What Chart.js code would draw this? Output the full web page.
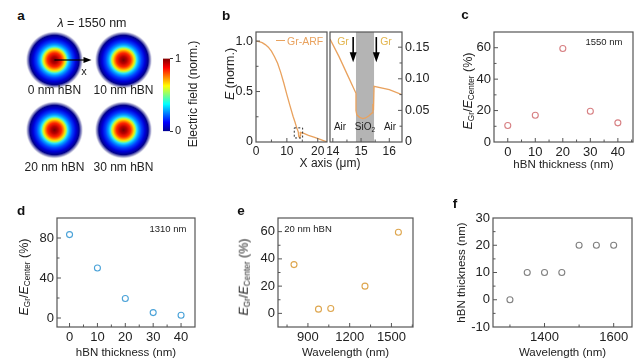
<!DOCTYPE html>
<html><head><meta charset="utf-8">
<script src="https://cdn.jsdelivr.net/npm/chart.js@4.4.1/dist/chart.umd.min.js"></script>
<style>
html,body{margin:0;padding:0;background:#fff;}
body{width:640px;height:364px;position:relative;overflow:hidden;font-family:"Liberation Sans",Arial,sans-serif;color:#222;}
canvas{position:absolute;z-index:1;}
.t,.tl,.v,.ln{z-index:3;}
.t{position:absolute;white-space:nowrap;transform:translate(-50%,-50%);line-height:1;}
.tl{position:absolute;white-space:nowrap;transform:translate(0,-50%);line-height:1;}
.v{position:absolute;white-space:nowrap;transform:translate(-50%,-50%) rotate(-90deg);line-height:1;}
.L{font-weight:bold;font-size:13.5px;color:#111;}
sub{font-size:0.66em;vertical-align:baseline;position:relative;top:0.3em;}
</style></head><body>

<div class="t L" style="left:21px;top:16px">a</div>
<div class="t" style="left:92px;top:23px;font-size:12.5px"><i>λ</i> = 1550 nm</div>
<div class="t" style="left:84px;top:71px;font-size:11px">x</div>
<div class="v" style="left:193px;top:94px;font-size:12px">Electric field (norm.)</div>

<div class="t L" style="left:226px;top:16px">b</div>
<div class="v" style="left:229.5px;top:74px;font-size:12.5px"><i>E</i> (norm.)</div>
<div class="t" style="left:330px;top:163px;font-size:12px">X axis (μm)</div>
<div class="ln" style="position:absolute;left:276px;top:40px;width:9px;border-top:1.4px solid #e9a25e"></div>
<div class="tl" style="left:287px;top:41px;font-size:10.5px;color:#e9a25e">Gr-ARF</div>
<div class="t" style="left:343px;top:41px;font-size:10.5px;color:#e3b54e">Gr</div>
<div class="t" style="left:386px;top:41px;font-size:10.5px;color:#e3b54e">Gr</div>
<div class="t" style="left:340px;top:127px;font-size:10px">Air</div>
<div class="t" style="left:365px;top:127px;font-size:10px">SiO<sub>2</sub></div>
<div class="t" style="left:390px;top:127px;font-size:10px">Air</div>

<div class="t L" style="left:465px;top:15px">c</div>
<div class="t" style="left:604px;top:42px;font-size:9.5px">1550 nm</div>
<div class="v" style="left:468px;top:91px;font-size:12.5px"><i>E</i><sub>Gr</sub>/<i>E</i><sub>Center</sub> (%)</div>

<div class="t L" style="left:21px;top:211px">d</div>
<div class="t" style="left:168px;top:229px;font-size:9.5px">1310 nm</div>
<div class="v" style="left:24px;top:277px;font-size:12.5px"><i>E</i><sub>Gr</sub>/<i>E</i><sub>Center</sub> (%)</div>

<div class="t L" style="left:241px;top:211px">e</div>
<div class="t" style="left:308px;top:229px;font-size:9.5px">20 nm hBN</div>
<div class="v" style="left:244px;top:277px;font-size:12.5px"><i>E</i><sub>Gr</sub>/<i>E</i><sub>Center</sub> (%)</div>

<div class="t L" style="left:455px;top:204px">f</div>

<script>
// ---------------- DATA ----------------
const modeLabels = ['0 nm hBN', '10 nm hBN', '20 nm hBN', '30 nm hBN'];

const bLeftX = [0, 1, 2, 3, 4, 5, 6, 7, 8, 9, 10, 11, 12, 12.6, 13.2, 13.7, 13.85, 14.1, 14.3, 14.45, 15.5, 17, 19, 21, 23];
const bLeftE = [1.0, 0.995, 0.985, 0.965, 0.94, 0.9, 0.845, 0.78, 0.69, 0.585, 0.47, 0.36, 0.255, 0.2, 0.14, 0.1, 0.055, 0.045, 0.06, 0.095, 0.085, 0.066, 0.046, 0.024, 0];
const bRightX = [13.9, 14.22, 14.53, 14.82, 14.82, 14.85, 14.95, 15.06, 15.16, 15.27, 15.39, 15.42, 15.44, 15.46, 16.0, 16.45];
const bRightE = [0.163, 0.135, 0.105, 0.077, 0.05, 0.043, 0.039, 0.037, 0.038, 0.041, 0.046, 0.06, 0.05, 0.088, 0.083, 0.075];
const sio2Band = [14.82, 15.46];
const grArrowX = [14.72, 15.54];
const zoomBox = [12.4, 15.1, 0.04, 0.14];

const thickness = [0, 10, 20, 30, 40];
const ratio1550 = [10.5, 17, 59.5, 19.6, 12.2];
const ratio1310 = [83.4, 50, 19.5, 5.4, 2.7];
const wavelengthsE = [800, 976, 1064, 1310, 1550];
const ratioE = [35.8, 3.1, 3.6, 20, 59.5];
const wavelengthsF = [1300, 1350, 1400, 1450, 1500, 1550, 1600];
const optThickness = [0, 10, 10, 10, 20, 20, 20];

const bLeftXTicks = [0, 10, 20], bLeftYTicks = [0, 0.5, 1.0];
const bRightXTicks = [14, 15, 16], bRightYTicks = [0, 0.05, 0.10, 0.15];
const thickTicks = [0, 10, 20, 30, 40];
const cYTicks = [0, 20, 40, 60];
const dYTicks = [0, 40, 80];
const eXTicks = [900, 1200, 1500], eYTicks = [0, 20, 40, 60];
const fXTicks = [1400, 1600], fYTicks = [-10, 0, 10, 20, 30];
const cbTicks = [0, 1];

// ---------------- HELPERS ----------------
const FONT = '"Liberation Sans", Arial, sans-serif';
const P = 14;
const ORANGE = '#e9a25e';

const inTicks = {
  id: 'inTicks',
  afterDraw(chart) {
    const {ctx, chartArea: a, scales} = chart;
    ctx.save();
    ctx.strokeStyle = '#555';
    ctx.lineWidth = 1.2;
    ctx.strokeRect(a.left, a.top, a.right - a.left, a.bottom - a.top);
    ctx.lineWidth = 1;
    ctx.beginPath();
    Object.values(scales).forEach(s => {
      const vals = s.ticks.map(t => t.value);
      const all = vals.map(v => [v, 4]);
      if (vals.length > 1) {
        const st = vals[1] - vals[0];
        let v = vals[0] - st * Math.ceil((vals[0] - s.min) / st) + st / 2;
        for (; v < s.max; v += st) if (v > s.min + 1e-9) all.push([v, 2.5]);
      }
      all.forEach(([v, len]) => {
        if (v <= s.min + 1e-9 || v >= s.max - 1e-9) return;
        const p = s.getPixelForValue(v);
        if (s.position === 'bottom') { ctx.moveTo(p, a.bottom); ctx.lineTo(p, a.bottom - len); }
        else if (s.position === 'left') { ctx.moveTo(a.left, p); ctx.lineTo(a.left + len, p); }
        else if (s.position === 'right') { ctx.moveTo(a.right, p); ctx.lineTo(a.right - len, p); }
      });
    });
    ctx.stroke();
    ctx.restore();
  }
};

function axis(pos, min, max, tickVals, o) {
  const horiz = pos === 'bottom';
  return {
    type: 'linear', position: pos, min, max,
    afterBuildTicks: s => { s.ticks = tickVals.map(v => ({value: v})); },
    afterFit: s => { if (horiz) s.height = o.size; else s.width = o.size; },
    grid: {display: false, drawTicks: false},
    border: {display: false},
    ticks: {font: {family: FONT, size: o.fs || 13}, color: '#222', padding: o.pad ?? 3,
            maxRotation: 0, autoSkip: false, callback: o.cb || (v => String(v))},
    title: o.title ? {display: true, text: o.title, font: {family: FONT, size: 11.5}, color: '#222',
                      padding: {top: 0, bottom: 0}} : {display: false}
  };
}

function baseOpts(scales) {
  return {animation: false, responsive: false, devicePixelRatio: 1,
          layout: {padding: P, autoPadding: false},
          plugins: {legend: {display: false}, tooltip: {enabled: false}},
          scales};
}

function mk(fr, yW, xH, rW, config) {
  const c = document.createElement('canvas');
  const w = (fr.r - fr.l) + yW + rW + 2 * P, h = (fr.b - fr.t) + xH + 2 * P;
  c.width = w; c.height = h;
  c.style.left = (fr.l - yW - P) + 'px'; c.style.top = (fr.t - P) + 'px';
  document.body.appendChild(c);
  return new Chart(c, config);
}

function pts(xs, ys) { return xs.map((x, i) => ({x, y: ys[i]})); }

function scatterSet(xs, ys, color) {
  return {data: pts(xs, ys), pointRadius: 3, pointBorderWidth: 1.1, borderColor: color,
          backgroundColor: 'rgba(0,0,0,0)', pointBackgroundColor: 'rgba(0,0,0,0)', pointBorderColor: color, showLine: false};
}

const jet = [[0, '#00008f'], [0.125, '#0000ff'], [0.375, '#00ffff'], [0.625, '#ffff00'], [0.875, '#ff0000'], [1, '#800000']];

// ---------------- PANEL A (mode profiles) ----------------
try {
  const c = document.createElement('canvas');
  c.width = 138; c.height = 140; c.style.left = '20px'; c.style.top = '25px';
  document.body.appendChild(c);
  const R = 29;
  const stops = [[0, '#780000'], [0.12, '#b80000'], [0.24, '#ff2400'], [0.31, '#ff8c00'], [0.36, '#ffdc00'],
                 [0.41, '#a0ff60'], [0.46, '#28e0ff'], [0.53, '#0098ff'], [0.62, '#0040ff'], [0.74, '#0000d8'],
                 [0.85, '#00008c'], [0.94, 'rgba(60,60,150,0.4)'], [1, 'rgba(255,255,255,0)']];
  const ch = new Chart(c, {
    type: 'scatter',
    data: {datasets: [{data: modeLabels.map((m, i) => ({x: i % 2 + 0.5, y: Math.floor(i / 2) + 0.5})),
      pointRadius: R, pointBorderWidth: 0, borderWidth: 0, clip: false,
      pointBackgroundColor: ctx => {
        const ch = ctx.chart;
        if (!ch.scales || !ch.scales.x || !ctx.raw) return '#00f';
        const x = ch.scales.x.getPixelForValue(ctx.raw.x), y = ch.scales.y.getPixelForValue(ctx.raw.y);
        if (!isFinite(x) || !isFinite(y)) return '#00f';
        const g = ch.ctx.createRadialGradient(x, y, 0, x, y, R);
        stops.forEach(s => g.addColorStop(s[0], s[1]));
        return g;
      }}]},
    options: {animation: false, responsive: false, devicePixelRatio: 1, layout: {padding: 0, autoPadding: false},
      plugins: {legend: {display: false}, tooltip: {enabled: false}},
      scales: {x: {display: false, min: 0, max: 2}, y: {display: false, min: 0, max: 2, reverse: true}}},
    plugins: [{id: 'arrow', afterDatasetsDraw(chart) {
      const {ctx} = chart;
      const x = chart.scales.x.getPixelForValue(0.5), y = chart.scales.y.getPixelForValue(0.5);
      ctx.save(); ctx.strokeStyle = '#000'; ctx.fillStyle = '#000'; ctx.lineWidth = 1.2;
      ctx.beginPath(); ctx.moveTo(x, y); ctx.lineTo(x + 30, y); ctx.stroke();
      ctx.beginPath(); ctx.moveTo(x + 37, y); ctx.lineTo(x + 29, y - 3); ctx.lineTo(x + 29, y + 3); ctx.closePath(); ctx.fill();
      ctx.restore();
    }}]
  });
  ch.update();
  modeLabels.forEach((m, i) => {
    const row = Math.floor(i / 2);
    const d = document.createElement('div');
    d.className = 't'; d.style.fontSize = '12px';
    d.style.left = (20 + ch.scales.x.getPixelForValue(i % 2 + 0.5)) + 'px';
    d.style.top = (25 + ch.scales.y.getPixelForValue(row + 0.5) + (row ? 37 : 30)) + 'px';
    d.textContent = m;
    document.body.appendChild(d);
  });
} catch (e) { console.error(e); }

// colorbar
try {
  const c = document.createElement('canvas');
  c.width = 24; c.height = 90; c.style.left = '163px'; c.style.top = '50px';
  document.body.appendChild(c);
  const cb = new Chart(c, {
    type: 'bar',
    data: {labels: [''], datasets: [{data: [1], barPercentage: 1, categoryPercentage: 1, borderWidth: 0,
      backgroundColor: ctx => {
        const a = ctx.chart.chartArea;
        if (!a || !isFinite(a.top) || !isFinite(a.bottom) || a.bottom === a.top) return '#00f';
        const g = ctx.chart.ctx.createLinearGradient(0, a.bottom, 0, a.top);
        jet.forEach(s => g.addColorStop(s[0], s[1]));
        return g;
      }}]},
    options: {animation: false, responsive: false, devicePixelRatio: 1,
      layout: {padding: {left: 0, right: 0, top: 6.7, bottom: 6.7}, autoPadding: false},
      plugins: {legend: {display: false}, tooltip: {enabled: false}},
      scales: {x: {display: false},
        y: {position: 'right', min: 0, max: 1,
            afterBuildTicks: s => { s.ticks = cbTicks.map(v => ({value: v})); },
            afterFit: s => { s.width = 17; },
            grid: {display: true, drawOnChartArea: false, drawTicks: true, tickLength: 3, color: '#333'},
            border: {display: false},
            ticks: {padding: 2, font: {family: FONT, size: 11}, color: '#222'}}}}
  });
  cb.update();
} catch (e) { console.error(e); }

// ---------------- PANEL B ----------------
mk({l: 256, t: 32, r: 327, b: 142}, 24, 14, 0, {
  type: 'scatter',
  data: {datasets: [{data: pts(bLeftX, bLeftE), showLine: true, pointRadius: 0, borderColor: ORANGE, borderWidth: 1.3}]},
  options: baseOpts({
    x: axis('bottom', 0, 23, bLeftXTicks, {size: 14, fs: 12, pad: 2}),
    y: axis('left', 0, 1.09, bLeftYTicks, {size: 24, fs: 12.5, cb: v => v === 0 ? '0' : v.toFixed(1)})
  }),
  plugins: [inTicks, {id: 'zbox', afterDatasetsDraw(chart) {
    const {ctx, scales: {x, y}} = chart;
    ctx.save(); ctx.strokeStyle = '#333'; ctx.lineWidth = 1; ctx.setLineDash([2, 2]);
    const x0 = x.getPixelForValue(zoomBox[0]), x1 = x.getPixelForValue(zoomBox[1]);
    const y0 = y.getPixelForValue(zoomBox[3]), y1 = y.getPixelForValue(zoomBox[2]);
    ctx.strokeRect(x0, y0, x1 - x0, y1 - y0);
    ctx.restore();
  }}]
});

mk({l: 330, t: 32, r: 402, b: 142}, 0, 14, 30, {
  type: 'scatter',
  data: {datasets: [{data: pts(bRightX, bRightE), showLine: true, pointRadius: 0, borderColor: ORANGE, borderWidth: 1.3}]},
  options: baseOpts({
    x: axis('bottom', 13.9, 16.45, bRightXTicks, {size: 14, fs: 12, pad: 2}),
    y: axis('right', 0, 0.174, bRightYTicks, {size: 30, fs: 12.5, cb: v => v === 0 ? '0' : v.toFixed(2)})
  }),
  plugins: [{id: 'band', beforeDatasetsDraw(chart) {
    const {ctx, chartArea: a, scales: {x}} = chart;
    const x0 = x.getPixelForValue(sio2Band[0]), x1 = x.getPixelForValue(sio2Band[1]);
    ctx.save(); ctx.fillStyle = '#b4b4b4'; ctx.fillRect(x0, a.top, x1 - x0, a.bottom - a.top); ctx.restore();
  }, afterDatasetsDraw(chart) {
    const {ctx, scales: {x, y}} = chart;
    ctx.save(); ctx.strokeStyle = '#000'; ctx.fillStyle = '#000'; ctx.lineWidth = 1.6;
    grArrowX.forEach(v => {
      const px = x.getPixelForValue(v), y0 = y.getPixelForValue(0.166), y1 = y.getPixelForValue(0.126);
      ctx.beginPath(); ctx.moveTo(px, y0); ctx.lineTo(px, y1 - 8); ctx.stroke();
      ctx.beginPath(); ctx.moveTo(px, y1); ctx.lineTo(px - 3.5, y1 - 10); ctx.lineTo(px + 3.5, y1 - 10); ctx.closePath(); ctx.fill();
    });
    ctx.restore();
  }}, inTicks]
});

// ---------------- PANEL C ----------------
mk({l: 494, t: 32, r: 633, b: 142}, 24, 30, 0, {
  type: 'scatter',
  data: {datasets: [scatterSet(thickness, ratio1550, '#d77f82')]},
  options: baseOpts({
    x: axis('bottom', -5, 45.5, thickTicks, {size: 30, title: 'hBN thickness (nm)'}),
    y: axis('left', 0, 70, cYTicks, {size: 24})
  }),
  plugins: [inTicks]
});

// ---------------- PANEL D ----------------
mk({l: 57, t: 218, r: 195, b: 327}, 24, 33, 0, {
  type: 'scatter',
  data: {datasets: [scatterSet(thickness, ratio1310, '#4aa2d8')]},
  options: baseOpts({
    x: axis('bottom', -4.5, 45, thickTicks, {size: 33, title: 'hBN thickness (nm)'}),
    y: axis('left', -9, 100, dYTicks, {size: 24})
  }),
  plugins: [inTicks]
});

// ---------------- PANEL E ----------------
mk({l: 278, t: 218, r: 413, b: 327}, 24, 33, 0, {
  type: 'scatter',
  data: {datasets: [scatterSet(wavelengthsE, ratioE, '#dea64e')]},
  options: baseOpts({
    x: axis('bottom', 685, 1655, eXTicks, {size: 33, title: 'Wavelength (nm)'}),
    y: axis('left', -10, 70, eYTicks, {size: 24})
  }),
  plugins: [inTicks]
});

// ---------------- PANEL F ----------------
mk({l: 493, t: 218, r: 632, b: 327}, 38, 33, 0, {
  type: 'scatter',
  data: {datasets: [scatterSet(wavelengthsF, optThickness, '#808080')]},
  options: baseOpts({
    x: axis('bottom', 1251, 1653, fXTicks, {size: 33, title: 'Wavelength (nm)'}),
    y: axis('left', -10, 30, fYTicks, {size: 38, title: 'hBN thickness (nm)'})
  }),
  plugins: [inTicks]
});
</script>
</body></html>
